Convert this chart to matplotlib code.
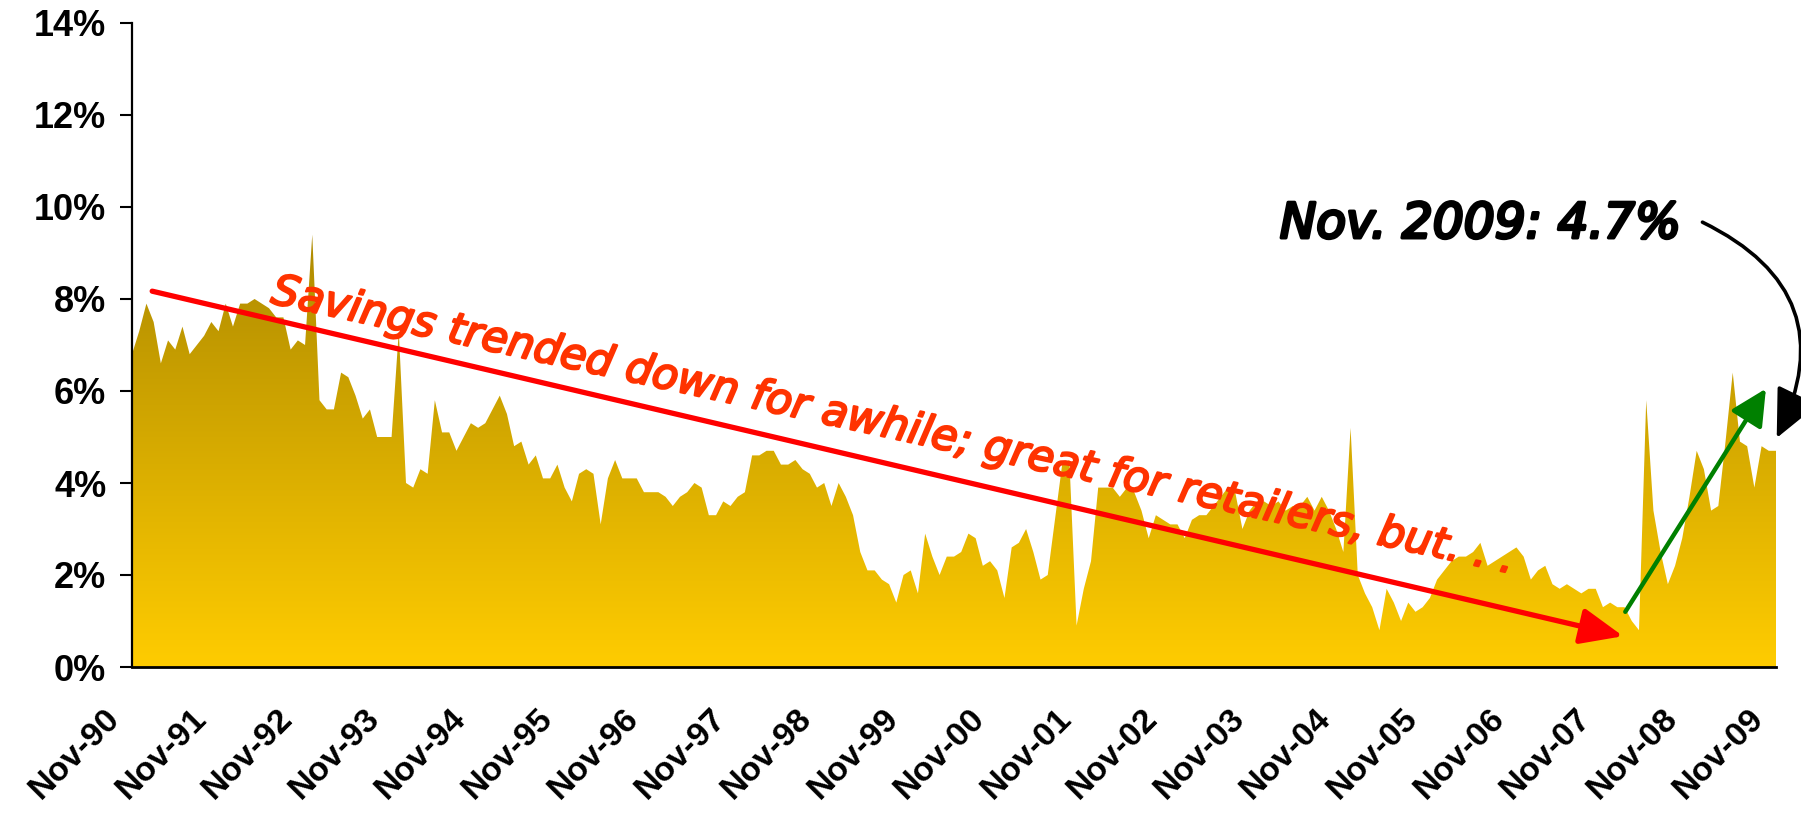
import matplotlib
matplotlib.use("Agg")
import matplotlib.pyplot as plt
import numpy as np
from matplotlib.colors import LinearSegmentedColormap
from matplotlib.ticker import FuncFormatter
import matplotlib.transforms as mtransforms
import matplotlib.patheffects as pe

# personal savings rate, monthly, Nov-90 .. Nov-09 (percent)
savings = [
    6.8, 7.3, 7.9, 7.5, 6.6, 7.1, 6.9, 7.4, 6.8, 7.0, 7.2, 7.5,   # Nov-90 ..
    7.3, 7.9, 7.4, 7.9, 7.9, 8.0, 7.9, 7.8, 7.6, 7.6, 6.9, 7.1,   # Nov-91 ..
    7.0, 9.4, 5.8, 5.6, 5.6, 6.4, 6.3, 5.9, 5.4, 5.6, 5.0, 5.0,   # Nov-92 ..
    5.0, 7.3, 4.0, 3.9, 4.3, 4.2, 5.8, 5.1, 5.1, 4.7, 5.0, 5.3,   # Nov-93 ..
    5.2, 5.3, 5.6, 5.9, 5.5, 4.8, 4.9, 4.4, 4.6, 4.1, 4.1, 4.4,   # Nov-94 ..
    3.9, 3.6, 4.2, 4.3, 4.2, 3.1, 4.1, 4.5, 4.1, 4.1, 4.1, 3.8,   # Nov-95 ..
    3.8, 3.8, 3.7, 3.5, 3.7, 3.8, 4.0, 3.9, 3.3, 3.3, 3.6, 3.5,   # Nov-96 ..
    3.7, 3.8, 4.6, 4.6, 4.7, 4.7, 4.4, 4.4, 4.5, 4.3, 4.2, 3.9,   # Nov-97 ..
    4.0, 3.5, 4.0, 3.7, 3.3, 2.5, 2.1, 2.1, 1.9, 1.8, 1.4, 2.0,   # Nov-98 ..
    2.1, 1.6, 2.9, 2.4, 2.0, 2.4, 2.4, 2.5, 2.9, 2.8, 2.2, 2.3,   # Nov-99 ..
    2.1, 1.5, 2.6, 2.7, 3.0, 2.5, 1.9, 2.0, 3.2, 4.4, 4.5, 0.9,   # Nov-00 ..
    1.7, 2.3, 3.9, 3.9, 3.9, 3.7, 3.9, 3.8, 3.4, 2.8, 3.3, 3.2,   # Nov-01 ..
    3.1, 3.1, 2.8, 3.2, 3.3, 3.3, 3.5, 3.7, 3.9, 3.8, 3.0, 3.4,   # Nov-02 ..
    3.6, 3.6, 3.5, 3.6, 3.4, 3.5, 3.5, 3.7, 3.4, 3.7, 3.4, 3.0,   # Nov-03 ..
    2.5, 5.2, 2.0, 1.6, 1.3, 0.8, 1.7, 1.4, 1.0, 1.4, 1.2, 1.3,   # Nov-04 ..
    1.5, 1.9, 2.1, 2.3, 2.4, 2.4, 2.5, 2.7, 2.2, 2.3, 2.4, 2.5,   # Nov-05 ..
    2.6, 2.4, 1.9, 2.1, 2.2, 1.8, 1.7, 1.8, 1.7, 1.6, 1.7, 1.7,   # Nov-06 ..
    1.3, 1.4, 1.3, 1.3, 1.0, 0.8, 5.8, 3.4, 2.5, 1.8, 2.2, 2.8,   # Nov-07 ..
    3.7, 4.7, 4.3, 3.4, 3.5, 4.9, 6.4, 4.9, 4.8, 3.9, 4.8, 4.7,   # Nov-08 ..
    4.7,                                                          # Nov-09
]
tick_labels = ["Nov-90", "Nov-91", "Nov-92", "Nov-93", "Nov-94", "Nov-95", "Nov-96",
               "Nov-97", "Nov-98", "Nov-99", "Nov-00", "Nov-01", "Nov-02", "Nov-03",
               "Nov-04", "Nov-05", "Nov-06", "Nov-07", "Nov-08", "Nov-09"]
y_ticks = [0, 2, 4, 6, 8, 10, 12, 14]

trend_note = "Savings trended down for awhile; great for retailers, but. . ."
last_note = "Nov. 2009: 4.7%"

x = np.arange(len(savings))
y = np.array(savings)

fig = plt.figure(figsize=(18.01, 8.13), dpi=100)
ax = fig.add_axes([132 / 1801, 146 / 813, (1776 - 132) / 1801, (667 - 23) / 813])

# gradient filled area
poly = ax.fill_between(x, 0, y, color="none", lw=0)
cmap = LinearSegmentedColormap.from_list("gold", ["#FFCC00", "#AE8A00"])
grad = np.linspace(0, 1, 256).reshape(-1, 1)
img = ax.imshow(grad, extent=[0, x[-1], 0, y.max()], origin="lower", aspect="auto",
                cmap=cmap, zorder=1)
img.set_clip_path(poly.get_paths()[0], transform=ax.transData)

ax.set_xlim(0, x[-1])
ax.set_ylim(0, 14)
ax.set_yticks(y_ticks)
ax.yaxis.set_major_formatter(FuncFormatter(lambda v, p: f"{int(v)}%"))
ax.set_xticks(x[::12])
ax.set_xticklabels(tick_labels)

for s in ["top", "right"]:
    ax.spines[s].set_visible(False)
ax.spines["left"].set_linewidth(1.6)
ax.spines["bottom"].set_linewidth(2.0)
ax.spines["left"].set_zorder(5)
ax.spines["bottom"].set_zorder(5)

ax.tick_params(axis="y", direction="out", length=8.5, width=1.5, pad=10)
ax.tick_params(axis="x", length=0, pad=34)
for lab in ax.get_yticklabels():
    lab.set_fontfamily("Liberation Sans")
    lab.set_fontweight("bold")
    lab.set_fontsize(26)
shift = mtransforms.ScaledTranslation(-0.17, 0, fig.dpi_scale_trans)
for lab in ax.get_xticklabels():
    lab.set_fontfamily("Liberation Sans")
    lab.set_fontweight("bold")
    lab.set_fontsize(24.5)
    lab.set_rotation(45)
    lab.set_ha("right")
    lab.set_va("center")
    lab.set_rotation_mode("anchor")
    lab.set_transform(lab.get_transform() + shift)

# annotations
ax.annotate("", xy=(206.8, 0.67), xytext=(2.8, 8.17), annotation_clip=False,
            arrowprops=dict(arrowstyle="-|>,head_length=1.3,head_width=0.55",
                            color="#FF0000", lw=3.8, mutation_scale=20,
                            shrinkA=0, shrinkB=0), zorder=6)
ax.annotate("", xy=(226.6, 6.05), xytext=(207.1, 1.2), annotation_clip=False,
            arrowprops=dict(arrowstyle="-|>,head_length=1.1,head_width=0.55",
                            color="#008000", lw=3.2, mutation_scale=20,
                            shrinkA=0, shrinkB=0), zorder=6)
ax.annotate("", xy=(228.1, 4.98), xytext=(217.8, 9.67), annotation_clip=False,
            arrowprops=dict(arrowstyle="-|>,head_length=1.5,head_width=0.7",
                            color="black", lw=2.6, mutation_scale=20,
                            shrinkA=0, shrinkB=0,
                            connectionstyle="arc3,rad=-0.5"), zorder=6)

t_red = ax.text(19.1, 7.92, trend_note, color="#FF3300", fontsize=30,
                family="DejaVu Sans", style="italic",
                ha="left", va="baseline", rotation_mode="anchor", zorder=7)
t_blk = ax.text(159.2, 9.33, last_note, color="black", fontsize=32,
                family="DejaVu Sans", style="italic",
                ha="left", va="baseline", zorder=7)

fig.canvas.draw()
r = fig.canvas.get_renderer()
for t, w_target in [(t_red, 1270), (t_blk, 402)]:
    w = t.get_window_extent(r).width
    t.set_fontsize(t.get_fontsize() * w_target / w)
t_red.set_rotation(-12.3)
t_red.set_path_effects([pe.withStroke(linewidth=1.6, foreground="#FF3300")])
t_blk.set_path_effects([pe.withStroke(linewidth=2.4, foreground="black")])

fig.savefig("out.png", dpi=100)
